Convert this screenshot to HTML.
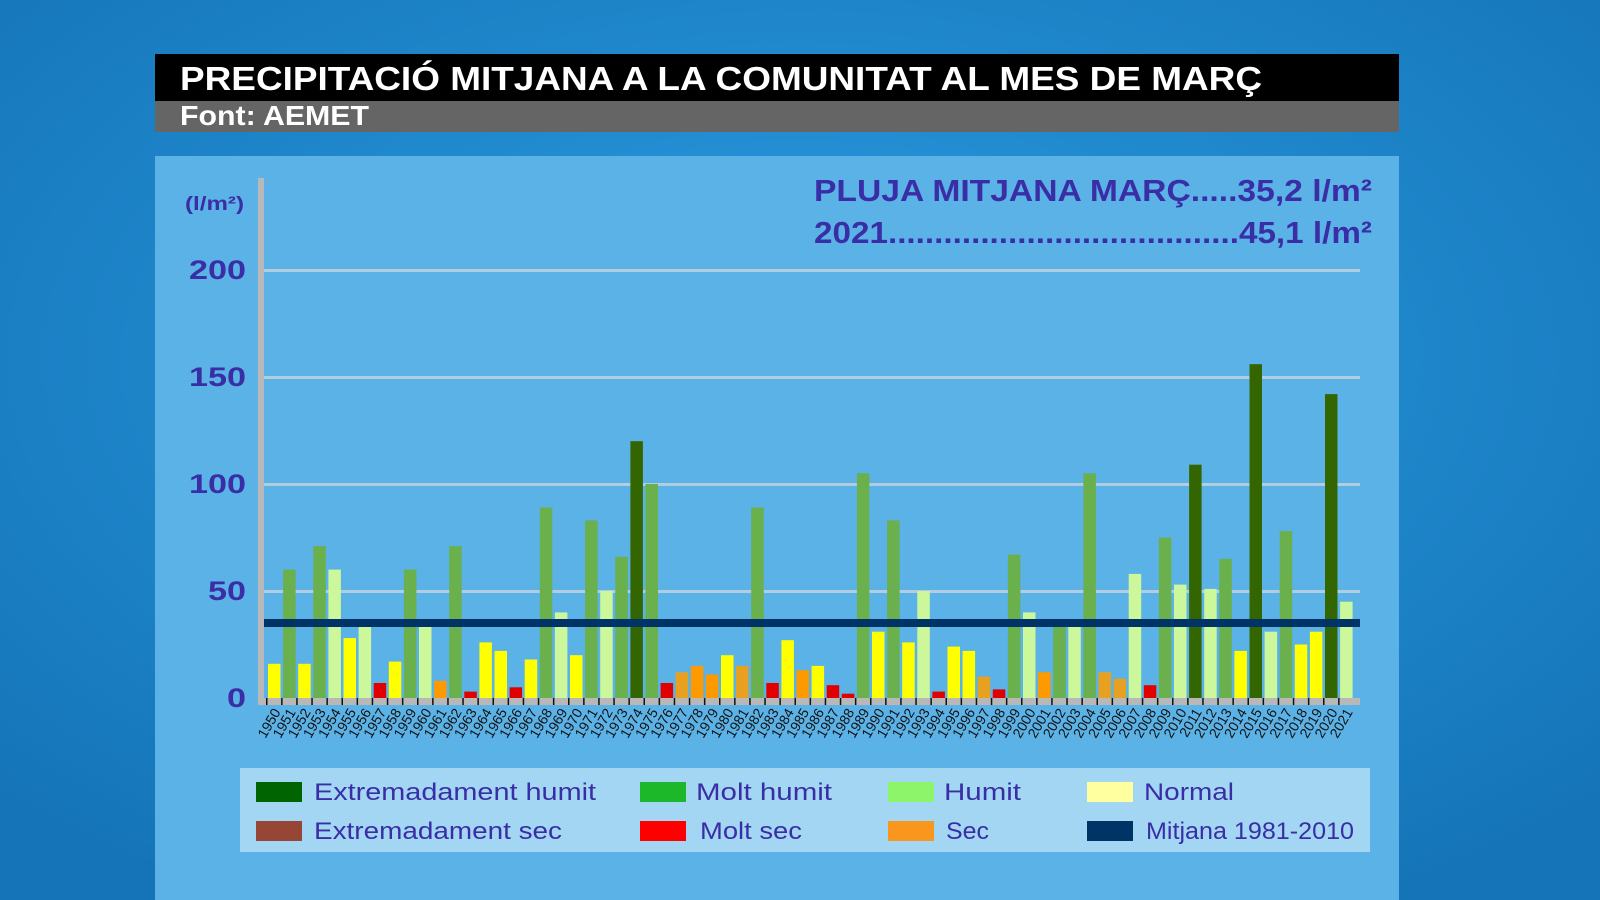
<!DOCTYPE html>
<html><head><meta charset="utf-8"><style>
html,body{margin:0;padding:0;width:1600px;height:900px;overflow:hidden;background:#1a8ad2;}
svg{display:block}
</style></head><body>
<svg id="s" width="1600" height="900" xmlns="http://www.w3.org/2000/svg" font-family="Liberation Sans, sans-serif">
<defs>
<radialGradient id="bg" cx="50%" cy="40%" r="70%"><stop offset="0" stop-color="#2a9be0"/><stop offset="1" stop-color="#1574b8"/></radialGradient>
</defs>
<rect width="1600" height="900" fill="url(#bg)"/>
<rect x="155" y="156" width="1244" height="744" fill="#5bb2e6"/>
<rect x="155" y="54" width="1244" height="47" fill="#000"/>
<rect x="155" y="101" width="1244" height="31" fill="#656565"/>
<text x="180" y="90" fill="#fff" font-size="33" font-weight="bold" textLength="1082" lengthAdjust="spacingAndGlyphs">PRECIPITACIÓ MITJANA A LA COMUNITAT AL MES DE MARÇ</text>
<text x="180" y="125" fill="#fff" font-size="28" font-weight="bold" textLength="189" lengthAdjust="spacingAndGlyphs">Font: AEMET</text>
<text x="814" y="201" fill="#3a2ea6" font-size="31" font-weight="bold" textLength="558" lengthAdjust="spacingAndGlyphs">PLUJA MITJANA MARÇ.....35,2 l/m²</text>
<text x="814" y="243" fill="#3a2ea6" font-size="31" font-weight="bold" textLength="558" lengthAdjust="spacingAndGlyphs">2021......................................45,1 l/m²</text>
<text x="185" y="210" fill="#3a2ea6" font-size="19" font-weight="bold" textLength="59" lengthAdjust="spacingAndGlyphs">(l/m²)</text>
<g id="g"></g>
<rect x="240" y="768" width="1130" height="84" fill="#b0dcf4" opacity="0.85"/>
<g font-size="24" fill="#3a2ea6" lengthAdjust="spacingAndGlyphs">
<rect x="256" y="782" width="46" height="20" fill="#006400"/><text x="314" y="800" textLength="282" lengthAdjust="spacingAndGlyphs">Extremadament humit</text>
<rect x="256" y="821" width="46" height="20" fill="#974535"/><text x="314" y="839" textLength="248" lengthAdjust="spacingAndGlyphs">Extremadament sec</text>
<rect x="640" y="782" width="46" height="20" fill="#1db82a"/><text x="696" y="800" textLength="136" lengthAdjust="spacingAndGlyphs">Molt humit</text>
<rect x="640" y="821" width="46" height="20" fill="#ff0000"/><text x="700" y="839" textLength="102" lengthAdjust="spacingAndGlyphs">Molt sec</text>
<rect x="888" y="782" width="46" height="20" fill="#8df56a"/><text x="944" y="800" textLength="77" lengthAdjust="spacingAndGlyphs">Humit</text>
<rect x="888" y="821" width="46" height="20" fill="#f8961e"/><text x="946" y="839" textLength="43" lengthAdjust="spacingAndGlyphs">Sec</text>
<rect x="1087" y="782" width="46" height="20" fill="#ffffa0"/><text x="1144" y="800" textLength="90" lengthAdjust="spacingAndGlyphs">Normal</text>
<rect x="1087" y="821" width="46" height="20" fill="#003366"/><text x="1146" y="839" textLength="208" lengthAdjust="spacingAndGlyphs">Mitjana 1981-2010</text>
</g>
</svg>
<script>
var d=[[16,'Y'],[60,'M'],[16,'Y'],[71,'M'],[60,'H'],[28,'Y'],[34,'H'],[7,'R'],[17,'Y'],[60,'M'],[34,'H'],[8,'O'],[71,'M'],[3,'R'],[26,'Y'],[22,'Y'],[5,'R'],[18,'Y'],[89,'M'],[40,'H'],[20,'Y'],[83,'M'],[50,'H'],[66,'M'],[120,'E'],[100,'M'],[7,'R'],[12,'P'],[15,'O'],[11,'O'],[20,'Y'],[15,'P'],[89,'M'],[7,'R'],[27,'Y'],[13,'O'],[15,'Y'],[6,'R'],[2,'R'],[105,'M'],[31,'Y'],[83,'M'],[26,'Y'],[50,'H'],[3,'R'],[24,'Y'],[22,'Y'],[10,'P'],[4,'R'],[67,'M'],[40,'H'],[12,'O'],[34,'M'],[34,'H'],[105,'M'],[12,'P'],[9,'P'],[58,'H'],[6,'R'],[75,'M'],[53,'H'],[109,'E'],[51,'H'],[65,'M'],[22,'Y'],[156,'E'],[31,'H'],[78,'M'],[25,'Y'],[31,'Y'],[142,'E'],[45,'H']];
var c={Y:'#ffff00',M:'#6ab04c',H:'#ccf79a',E:'#336600',O:'#ff9900',P:'#e8a020',R:'#e00000'};
var s='',B=698,k=2.14;
s+='<rect x="258" y="178" width="6" height="527" fill="#b8b8b8"/>';
[0,50,100,150,200].forEach(function(v){var y=B-v*k;
 if(v>0)s+='<rect x="264" y="'+(y-1)+'" width="1096" height="3" fill="#b9cfe0" opacity="0.9"/>';
 var w=(''+v).length*19;
 s+='<text x="246" y="'+(y+9)+'" text-anchor="end" fill="#3a2ea6" font-size="27" font-weight="bold" textLength="'+w+'" lengthAdjust="spacingAndGlyphs">'+v+'</text>';});
s+='<rect x="258" y="'+B+'" width="1102" height="7" fill="#b8b8b8"/>';
for(var i=0;i<72;i++){var x=268+i*15.1,h=d[i][0]*k;
 s+='<rect x="'+x.toFixed(1)+'" y="'+(B-h).toFixed(1)+'" width="12.5" height="'+h.toFixed(1)+'" fill="'+c[d[i][1]]+'"/>';
 s+='<rect x="'+(x-2).toFixed(1)+'" y="'+B+'" width="1.5" height="7" fill="#111"/>';
 s+='<text transform="translate('+(x+13).toFixed(1)+',712) rotate(-60)" text-anchor="end" font-size="14" fill="#111">'+(1950+i)+'</text>';}
s+='<rect x="264" y="619" width="1096" height="8" fill="#003366"/>';
document.getElementById('g').innerHTML=s;
</script>
</body></html>
